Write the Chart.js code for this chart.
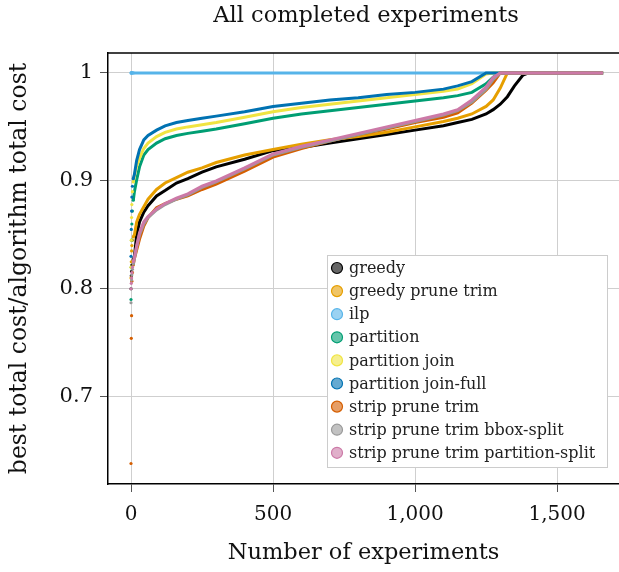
<!DOCTYPE html>
<html>
<head>
<meta charset="utf-8">
<script src="https://cdn.jsdelivr.net/npm/chart.js@4.4.1/dist/chart.umd.min.js"></script>
<style>
  html, body { margin: 0; padding: 0; background: #fff; }
  #wrap { width: 619px; height: 572px; }
</style>
</head>
<body>
<div id="wrap"><canvas id="expChart" width="619" height="572"></canvas></div>
<script>
var expCounts = [0, 1, 2, 3, 5, 8, 12, 20, 30, 45, 60, 90, 120, 160, 200, 250, 300, 400, 500, 600,
                 700, 800, 900, 1000, 1100, 1150, 1200, 1250, 1275, 1300, 1325, 1350, 1380, 1400, 1662];

// best total cost / algorithm total cost, one list per algorithm
var greedy = [0.800, 0.812, 0.816, 0.822, 0.825, 0.827, 0.830, 0.850, 0.862, 0.871, 0.877, 0.886, 0.891, 0.898, 0.902, 0.908, 0.913, 0.920, 0.928, 0.931,
              0.935, 0.939, 0.943, 0.947, 0.951, 0.954, 0.957, 0.962, 0.966, 0.971, 0.978, 0.988, 0.998, 1, 1];
var greedyPruneTrim = [0.810, 0.825, 0.835, 0.840, 0.845, 0.848, 0.850, 0.862, 0.869, 0.876, 0.883, 0.892, 0.898, 0.903, 0.908, 0.912, 0.917, 0.924, 0.929, 0.934,
              0.938, 0.941, 0.945, 0.950, 0.955, 0.958, 0.962, 0.969, 0.975, 0.986, 1, 1, 1, 1, 1];
var ilp = [1, 1, 1, 1, 1, 1, 1, 1, 1, 1, 1, 1, 1, 1, 1, 1, 1, 1, 1, 1,
              1, 1, 1, 1, 1, 1, 1, 1, 1, 1, 1, 1, 1, 1, 1];
var partition = [0.790, 0.820, 0.845, 0.860, 0.872, 0.882, 0.890, 0.901, 0.913, 0.924, 0.929, 0.935, 0.939, 0.942, 0.944, 0.946, 0.948, 0.953, 0.958, 0.962,
              0.965, 0.968, 0.971, 0.974, 0.977, 0.979, 0.982, 0.990, 0.996, 1, 1, 1, 1, 1, 1];
var partitionJoin = [0.820, 0.845, 0.866, 0.878, 0.890, 0.899, 0.905, 0.914, 0.921, 0.930, 0.935, 0.941, 0.945, 0.948, 0.950, 0.952, 0.954, 0.959, 0.964, 0.968,
              0.971, 0.974, 0.977, 0.980, 0.983, 0.985, 0.990, 0.999, 1, 1, 1, 1, 1, 1, 1];
var partitionJoinFull = [0.830, 0.855, 0.872, 0.885, 0.895, 0.902, 0.906, 0.919, 0.929, 0.938, 0.942, 0.947, 0.951, 0.954, 0.956, 0.958, 0.960, 0.964, 0.969, 0.972,
              0.975, 0.977, 0.980, 0.982, 0.985, 0.988, 0.992, 1, 1, 1, 1, 1, 1, 1, 1];
var stripPruneTrim = [0.638, 0.754, 0.775, 0.807, 0.815, 0.822, 0.828, 0.836, 0.846, 0.858, 0.866, 0.875, 0.879, 0.883, 0.886, 0.892, 0.897, 0.909, 0.922, 0.930,
              0.937, 0.943, 0.948, 0.954, 0.959, 0.963, 0.972, 0.984, 0.991, 1, 1, 1, 1, 1, 1];
var stripBboxSplit = [0.787, 0.800, 0.808, 0.813, 0.818, 0.823, 0.828, 0.839, 0.850, 0.860, 0.866, 0.873, 0.878, 0.883, 0.887, 0.894, 0.899, 0.911, 0.924, 0.931,
              0.937, 0.943, 0.949, 0.955, 0.961, 0.965, 0.973, 0.985, 0.994, 1, 1, 1, 1, 1, 1];
var stripPartitionSplit = [0.800, 0.805, 0.810, 0.815, 0.820, 0.825, 0.829, 0.840, 0.852, 0.862, 0.867, 0.874, 0.879, 0.884, 0.888, 0.895, 0.900, 0.912, 0.925, 0.932,
              0.938, 0.944, 0.950, 0.956, 0.962, 0.966, 0.975, 0.987, 0.996, 1, 1, 1, 1, 1, 1];

var seriesNames = ["greedy", "greedy prune trim", "ilp", "partition", "partition join", "partition join-full",
                   "strip prune trim", "strip prune trim bbox-split", "strip prune trim partition-split"];
var seriesValues = [greedy, greedyPruneTrim, ilp, partition, partitionJoin, partitionJoinFull,
                    stripPruneTrim, stripBboxSplit, stripPartitionSplit];
var seriesColors = ["#000000", "#E69F00", "#56B4E9", "#009E73", "#F0E442", "#0072B2", "#D55E00", "#999999", "#CC79A7"];

var xTicks = [0, 500, 1000, 1500];
var yTicks = [0.7, 0.8, 0.9, 1];
var chartTitle = "All completed experiments";

var FONT = "'DejaVu Serif', 'Liberation Serif', serif";

function hexAlpha(hex, a) {
    var r = parseInt(hex.substr(1, 2), 16), g = parseInt(hex.substr(3, 2), 16), b = parseInt(hex.substr(5, 2), 16);
    return "rgba(" + r + "," + g + "," + b + "," + a + ")";
}

// the first few ranks are lone dots, not joined up
var DOT_LIMIT = 8;

var datasets = seriesNames.map(function(name, i) {
    var col = seriesColors[i];
    return {
        label: name,
        data: expCounts.map(function(x, j) { return { x: x, y: seriesValues[i][j] }; }),
        borderColor: col,
        backgroundColor: col,
        borderWidth: 3,
        fill: false,
        tension: 0,
        order: seriesNames.length - i,
        pointRadius: function(ctx) {
            return expCounts[ctx.dataIndex] <= DOT_LIMIT ? 1.6 : 0;
        },
        pointHoverRadius: 0,
        pointBorderWidth: 0,
        segment: {
            borderColor: function(ctx) {
                return ctx.p0.parsed.x < DOT_LIMIT ? "rgba(0,0,0,0)" : col;
            }
        }
    };
});

// legend drawn inside the plot, lower right
var boxLegend = {
    id: "boxLegend",
    afterDraw: function(chart) {
        var c = chart.ctx, a = chart.chartArea;
        var left = 327, right = 607, bottom = a.bottom - 17, top = a.bottom - 229;
        c.save();
        c.fillStyle = "#fff";
        c.fillRect(left, top, right - left, bottom - top);
        c.strokeStyle = "#cccccc";
        c.lineWidth = 1;
        c.strokeRect(left + 0.5, top + 0.5, right - left, bottom - top);
        c.font = "16px " + FONT;
        c.textBaseline = "middle";
        c.textAlign = "left";
        for (var i = 0; i < seriesNames.length; i++) {
            var cy = top + 13 + i * 23.1;
            c.beginPath();
            c.arc(left + 10, cy, 5.5, 0, Math.PI * 2);
            c.fillStyle = hexAlpha(seriesColors[i], 0.6);
            c.fill();
            c.strokeStyle = seriesColors[i];
            c.lineWidth = 1.2;
            c.stroke();
            c.fillStyle = "#222";
            c.fillText(seriesNames[i], left + 22, cy + 1);
        }
        c.restore();
    }
};

// black frame line across the top of the plot, and the title over the plot centre
var topFrame = {
    id: "topFrame",
    afterDatasetsDraw: function(chart) {
        var c = chart.ctx, a = chart.chartArea;
        c.save();
        c.strokeStyle = "#000";
        c.lineWidth = 1.5;
        c.beginPath();
        c.moveTo(a.left, a.top);
        c.lineTo(a.right, a.top);
        c.stroke();
        c.fillStyle = "#111";
        c.font = "22.5px " + FONT;
        c.textAlign = "center";
        c.textBaseline = "middle";
        c.fillText(chartTitle, 366, 16);
        c.restore();
    }
};

var ctx = document.getElementById("expChart");

var config = {
    type: "line",
    data: { datasets: datasets },
    options: {
        responsive: false,
        animation: false,
        layout: { padding: { top: 53, left: 0, right: 0, bottom: 0 }, autoPadding: false },
        plugins: {
            legend: { display: false },
            tooltip: { enabled: false },
            title: { display: false }
        },
        scales: {
            x: {
                type: "linear",
                min: -81,
                max: 1718,
                afterBuildTicks: function(scale) {
                    scale.ticks = xTicks.map(function(v) { return { value: v }; });
                },
                afterFit: function(scale) { scale.height = 88; },
                ticks: {
                    color: "#111",
                    font: { family: FONT, size: 20 },
                    padding: 11,
                    maxRotation: 0,
                    callback: function(v) { return v.toLocaleString("en-US"); }
                },
                grid: { color: "#cfcfcf", lineWidth: 1, tickColor: "#555", tickLength: 8 },
                border: { color: "#000", width: 1.5 },
                title: {
                    display: true,
                    text: "Number of experiments",
                    color: "#111",
                    font: { family: FONT, size: 22.5, lineHeight: 1.2 },
                    padding: { top: 0, bottom: 5 }
                }
            },
            y: {
                type: "linear",
                min: 0.619,
                max: 1.0185,
                afterBuildTicks: function(scale) {
                    scale.ticks = yTicks.map(function(v) { return { value: v }; });
                },
                afterFit: function(scale) { scale.width = 108; },
                ticks: {
                    color: "#111",
                    font: { family: FONT, size: 21 },
                    padding: 7,
                    callback: function(v) { return String(v); }
                },
                grid: { color: "#cfcfcf", lineWidth: 1, tickColor: "#555", tickLength: 8 },
                border: { color: "#000", width: 1.5 },
                title: {
                    display: true,
                    text: "best total cost/algorithm total cost",
                    color: "#111",
                    font: { family: FONT, size: 23.5, lineHeight: 1.2 },
                    padding: { top: 6, bottom: 0 }
                }
            }
        }
    },
    plugins: [topFrame, boxLegend]
};

var lineChart = new Chart(ctx, config);
</script>
</body>
</html>
